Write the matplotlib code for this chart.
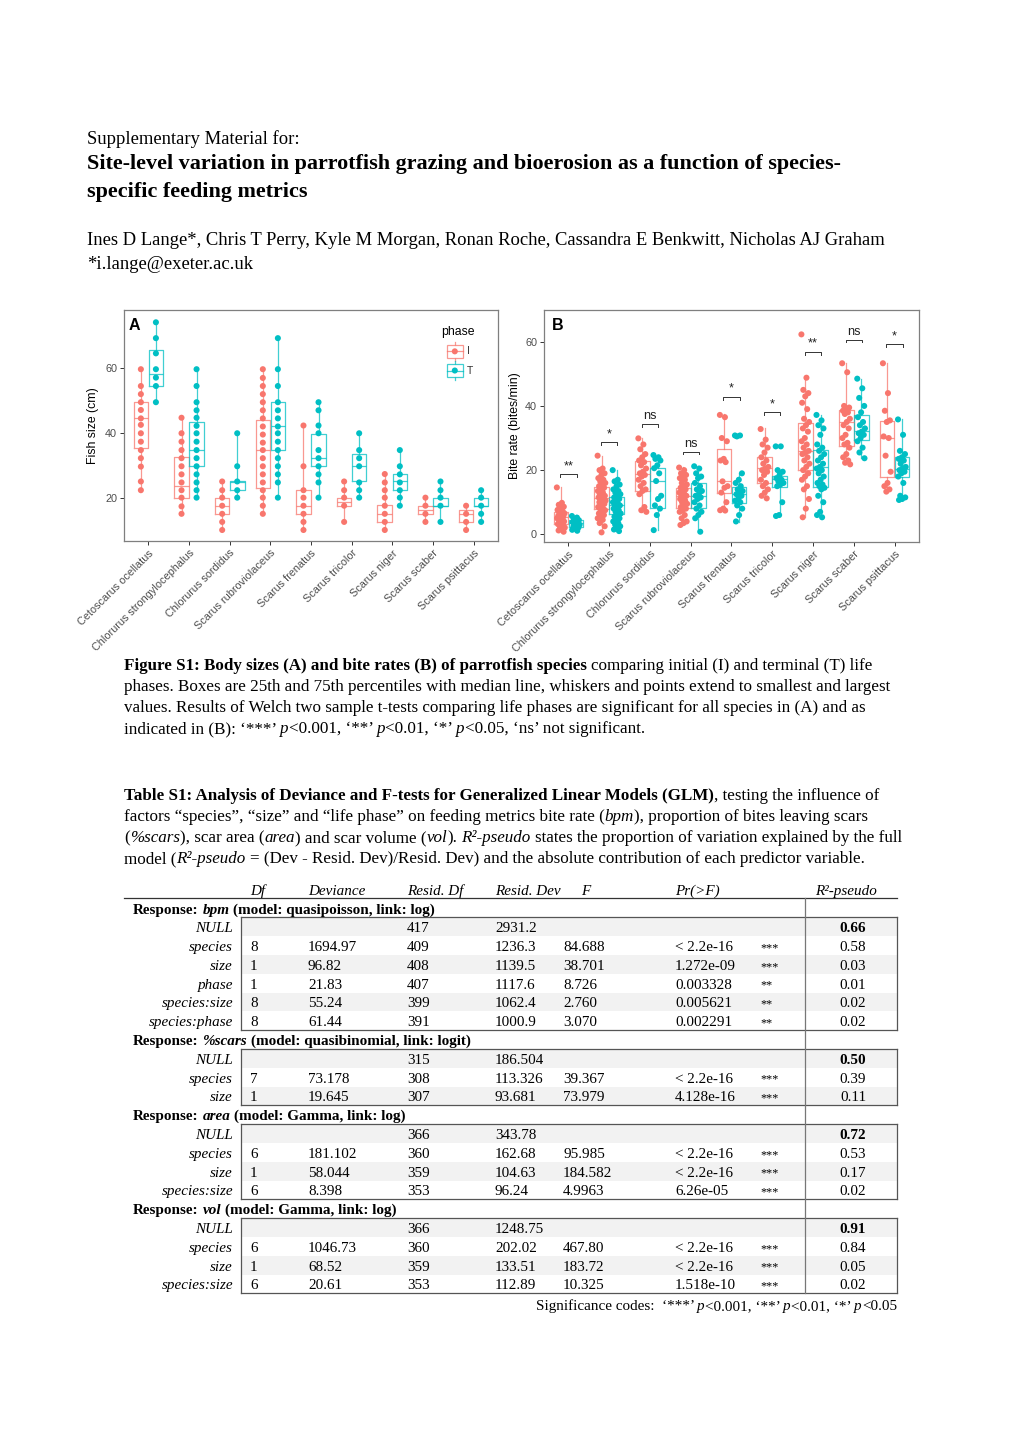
import matplotlib
matplotlib.use('Agg')
import matplotlib.pyplot as plt
from matplotlib.patches import Rectangle
from matplotlib.lines import Line2D
from matplotlib.font_manager import FontProperties

W, H = 1020, 1442
SERIF = 'Liberation Serif'
SANS = 'Liberation Sans'
RED = '#F8766D'
TEAL = '#00BFC4'

species = ['Cetoscarus ocellatus', 'Chlorurus strongylocephalus', 'Chlorurus sordidus',
           'Scarus rubroviolaceus', 'Scarus frenatus', 'Scarus tricolor',
           'Scarus niger', 'Scarus scaber', 'Scarus psittacus']

# panel A: fish size, box stats = (min, q1, median, q3, max)
size_box_I = [(22.3, 35.3, 44.5, 49.5, 59.7), (15.0, 20.0, 23.6, 32.7, 44.7), (10.0, 15.0, 17.4, 20.0, 25.0),
              (15.0, 23.1, 34.7, 44.0, 59.7), (10.0, 15.0, 17.4, 22.4, 42.3), (12.5, 17.4, 18.6, 19.8, 25.0),
              (10.0, 12.5, 15.0, 17.7, 27.3), (12.5, 15.0, 16.2, 17.4, 20.0), (10.0, 12.5, 15.0, 16.2, 17.4)]
size_box_T = [(49.5, 54.5, 58.2, 65.7, 74.2), (20.0, 29.8, 34.7, 43.3, 59.7), (20.0, 22.4, 24.7, 25.0, 39.9),
              (20.0, 34.7, 42.2, 49.5, 69.3), (20.0, 29.8, 32.2, 39.6, 49.5), (20.0, 25.0, 29.8, 33.4, 39.9),
              (17.4, 22.4, 25.0, 27.2, 34.7), (12.5, 17.4, 17.4, 20.0, 25.0), (12.5, 17.4, 17.4, 20.0, 22.4)]
size_pts_I = [
    [59.7, 54.5, 52.0, 49.5, 47.1, 44.5, 42.5, 39.9, 37.3, 34.7, 32.2, 29.6, 25.0, 22.3],
    [44.7, 39.9, 37.3, 34.7, 32.2, 29.7, 27.2, 24.7, 22.3, 20.0, 17.3, 15.0],
    [25.0, 22.3, 20.0, 17.5, 15.0, 12.5, 10.0],
    [59.7, 57.0, 54.5, 52.0, 49.5, 47.0, 44.5, 42.0, 39.5, 37.0, 34.7, 32.2, 29.7, 27.2, 24.7, 22.3, 20.0, 17.5, 15.0],
    [42.3, 29.7, 22.3, 20.0, 17.5, 15.0, 12.5, 10.0],
    [25.0, 22.3, 20.0, 17.5, 12.5],
    [27.3, 24.7, 22.3, 20.0, 17.5, 15.0, 12.5, 10.0],
    [20.0, 17.5, 15.0, 12.5],
    [17.5, 15.0, 12.5, 10.0],
]
size_pts_T = [
    [74.2, 69.3, 64.6, 59.7, 57.1, 54.5, 49.5],
    [59.7, 54.5, 49.5, 47.0, 44.7, 42.2, 39.9, 37.3, 34.7, 32.2, 29.7, 27.2, 24.7, 22.3, 20.0],
    [39.9, 29.7, 25.0, 22.3, 20.0],
    [69.3, 59.7, 54.5, 49.5, 47.0, 44.5, 42.0, 39.9, 37.3, 34.7, 32.2, 29.7, 27.2, 24.7, 20.0],
    [49.5, 47.0, 42.3, 39.9, 34.7, 32.2, 29.7, 27.2, 24.7, 20.0],
    [39.9, 34.7, 32.2, 29.7, 24.7, 22.3, 20.0],
    [34.7, 29.7, 27.2, 24.7, 22.3, 20.0, 17.5],
    [25.0, 22.3, 20.0, 17.5, 12.5],
    [22.3, 20.0, 17.5, 15.0, 12.5],
]

# panel B: bite rate
bite_box_I = [(0.8, 3.1, 5.5, 7.0, 14.6), (0.6, 8.0, 11.4, 14.6, 24.5), (6.9, 13.6, 18.9, 22.9, 30.0),
              (2.9, 8.3, 11.9, 14.5, 21.0), (7.4, 12.8, 16.5, 26.5, 37.5), (11.2, 15.9, 20.8, 24.0, 33.0),
              (5.3, 20.0, 26.1, 34.6, 49.0), (21.8, 27.5, 34.9, 38.7, 53.3), (13.3, 17.8, 30.1, 35.4, 53.3)]
bite_box_T = [(1.1, 2.2, 3.4, 4.5, 5.9), (1.0, 6.2, 9.1, 11.7, 20.0), (1.3, 8.3, 16.5, 20.6, 24.8),
              (0.8, 8.1, 11.9, 16.1, 21.3), (3.9, 9.7, 12.5, 14.8, 19.2), (5.7, 14.8, 17.2, 18.3, 20.0),
              (5.3, 14.8, 20.9, 26.2, 37.2), (23.7, 29.4, 32.3, 37.2, 48.5), (10.7, 17.8, 20.2, 24.0, 35.8)]
bite_pts_I = [
    [14.6, 9.8, 9.2, 8.6, 8.1, 7.6, 7.2, 6.8, 6.5, 6.1, 5.8, 5.5, 5.3, 5.0, 4.6, 4.3, 4.0, 3.6, 3.2, 2.9, 2.5, 2.1, 1.7, 1.2, 0.8],
    [24.5, 20.5, 20.0, 19.0, 18.5, 17.5, 17.0, 16.5, 16.0, 15.5, 15.0, 14.5, 14.0, 13.5, 13.0, 12.5, 12.0, 12.0, 11.5, 11.5,
     11.0, 10.5, 10.0, 10.0, 9.5, 9.0, 8.5, 8.0, 8.0, 7.5, 7.0, 6.5, 6.0, 5.5, 5.0, 4.5, 3.5, 2.5, 0.6],
    [29.9, 28.0, 26.5, 25.0, 24.0, 23.0, 22.5, 21.5, 20.5, 19.5, 19.0, 18.5, 18.0, 17.0, 16.0, 15.0, 14.0, 13.5, 12.5, 8.5, 7.5, 7.0],
    [20.8, 20.0, 19.0, 18.5, 18.0, 17.5, 17.0, 16.0, 15.5, 15.0, 14.5, 14.0, 13.5, 13.0, 12.5, 12.0, 12.0, 11.5, 11.0, 10.5,
     10.0, 9.5, 9.0, 8.5, 8.0, 7.5, 7.0, 6.0, 5.0, 4.0, 3.5, 2.9],
    [37.2, 36.5, 30.0, 29.0, 23.5, 23.0, 22.5, 16.5, 15.0, 14.5, 13.0, 10.0, 8.0, 7.5, 7.4],
    [32.8, 29.5, 28.0, 27.0, 25.5, 24.0, 23.0, 22.0, 21.0, 20.5, 20.0, 19.5, 18.5, 17.0, 16.0, 15.0, 14.0, 13.0, 12.0, 11.2],
    [62.3, 48.8, 45.0, 44.0, 43.0, 41.0, 39.0, 36.0, 35.0, 34.0, 33.0, 32.0, 30.0, 29.0, 28.0, 27.0, 26.0, 25.5, 25.0, 24.0,
     23.0, 22.0, 21.0, 20.0, 19.0, 18.0, 17.0, 15.0, 14.0, 11.0, 8.0, 5.3],
    [53.3, 50.5, 40.0, 39.5, 39.0, 38.5, 38.0, 37.5, 36.0, 35.0, 34.0, 33.0, 31.0, 30.0, 28.5, 28.0, 27.0, 25.0, 24.0, 23.0, 22.3, 21.8],
    [53.3, 44.0, 38.5, 35.5, 35.0, 30.5, 30.0, 24.5, 19.5, 16.0, 15.0, 14.0, 13.3],
]
bite_pts_T = [
    [5.7, 5.2, 4.8, 4.4, 4.1, 3.8, 3.5, 3.3, 3.0, 2.7, 2.4, 2.1, 1.8, 1.4, 1.1],
    [20.0, 17.0, 16.5, 15.5, 15.0, 14.0, 13.5, 13.0, 12.5, 12.0, 11.5, 11.0, 10.5, 10.0, 9.5, 9.0, 9.0, 8.5, 8.0, 7.5,
     7.0, 6.5, 6.0, 5.5, 5.0, 4.5, 4.0, 3.5, 3.0, 2.5, 2.0, 1.5, 1.0],
    [24.7, 24.0, 23.5, 23.0, 21.5, 20.6, 19.0, 16.6, 12.0, 11.0, 9.0, 8.0, 6.0, 1.3],
    [21.2, 20.5, 19.0, 18.0, 17.5, 16.0, 15.0, 14.0, 13.5, 12.5, 12.0, 11.5, 11.0, 10.0, 9.0, 8.0, 7.0, 6.0, 5.0, 0.8],
    [30.8, 30.8, 30.5, 19.0, 17.0, 16.0, 15.0, 14.0, 13.5, 13.0, 12.5, 12.0, 11.0, 10.5, 10.0, 9.0, 8.0, 6.0, 4.0],
    [27.4, 27.4, 20.0, 19.5, 18.5, 17.5, 17.0, 16.5, 16.0, 15.5, 15.0, 10.0, 6.0, 5.7],
    [37.2, 35.5, 34.0, 33.0, 31.0, 28.0, 27.0, 26.0, 25.0, 24.0, 23.0, 22.0, 21.0, 20.5, 20.0, 19.0, 18.0, 17.0, 16.0, 15.5,
     15.0, 14.5, 14.0, 12.0, 10.0, 7.0, 6.0, 5.3],
    [48.5, 45.5, 42.5, 40.0, 38.0, 36.5, 35.0, 34.0, 33.0, 32.0, 31.5, 31.0, 30.0, 29.0, 27.0, 25.5, 23.7],
    [35.8, 31.0, 26.0, 25.0, 24.0, 23.5, 23.0, 22.0, 21.0, 20.5, 20.0, 19.5, 19.0, 18.0, 16.0, 12.0, 11.5, 11.0, 10.7],
]
sig_labels = ['**', '*', 'ns', 'ns', '*', '*', '**', 'ns', '*']
sig_heights = [18.8, 28.7, 34.4, 25.8, 42.9, 38.0, 56.9, 60.7, 59.3]

# table S1
bpm_rows = [
    ('NULL', '', '', '417', '2931.2', '', '', '', '0.66'),
    ('species', '8', '1694.97', '409', '1236.3', '84.688', '< 2.2e-16', '***', '0.58'),
    ('size', '1', '96.82', '408', '1139.5', '38.701', '1.272e-09', '***', '0.03'),
    ('phase', '1', '21.83', '407', '1117.6', '8.726', '0.003328', '**', '0.01'),
    ('species:size', '8', '55.24', '399', '1062.4', '2.760', '0.005621', '**', '0.02'),
    ('species:phase', '8', '61.44', '391', '1000.9', '3.070', '0.002291', '**', '0.02'),
]
scars_rows = [
    ('NULL', '', '', '315', '186.504', '', '', '', '0.50'),
    ('species', '7', '73.178', '308', '113.326', '39.367', '< 2.2e-16', '***', '0.39'),
    ('size', '1', '19.645', '307', '93.681', '73.979', '4.128e-16', '***', '0.11'),
]
area_rows = [
    ('NULL', '', '', '366', '343.78', '', '', '', '0.72'),
    ('species', '6', '181.102', '360', '162.68', '95.985', '< 2.2e-16', '***', '0.53'),
    ('size', '1', '58.044', '359', '104.63', '184.582', '< 2.2e-16', '***', '0.17'),
    ('species:size', '6', '8.398', '353', '96.24', '4.9963', '6.26e-05', '***', '0.02'),
]
vol_rows = [
    ('NULL', '', '', '366', '1248.75', '', '', '', '0.91'),
    ('species', '6', '1046.73', '360', '202.02', '467.80', '< 2.2e-16', '***', '0.84'),
    ('size', '1', '68.52', '359', '133.51', '183.72', '< 2.2e-16', '***', '0.05'),
    ('species:size', '6', '20.61', '353', '112.89', '10.325', '1.518e-10', '***', '0.02'),
]
responses = [('bpm', 'quasipoisson, link: log', bpm_rows),
             ('%scars', 'quasibinomial, link: logit', scars_rows),
             ('area', 'Gamma, link: log', area_rows),
             ('vol', 'Gamma, link: log', vol_rows)]
table_header = ['Df', 'Deviance', 'Resid. Df', 'Resid. Dev', 'F', 'Pr(>F)', 'R²-pseudo']

fig = plt.figure(figsize=(W / 100, H / 100), dpi=100)
R = fig.canvas.get_renderer()
N, B, I = 'normal', 'bold', 'italic'


def tw(s, size, weight=N, style=N, family=SERIF):
    fp = FontProperties(family=family, size=size, weight=weight, style=style)
    a = R.get_text_width_height_descent('|' + s + '|', fp, ismath=False)[0]
    b = R.get_text_width_height_descent('||', fp, ismath=False)[0]
    return a - b


def rich(x, y, parts, size, ha='left'):
    # parts: (text, weight, style); x, y in page pixels, y = baseline
    widths = [tw(t, size, w, s) for t, w, s in parts]
    if ha == 'right':
        x -= sum(widths)
    elif ha == 'center':
        x -= sum(widths) / 2
    for (t, w, s), wd in zip(parts, widths):
        lead = tw(t[:len(t) - len(t.lstrip())], size, w, s) if t[:1] == ' ' else 0
        if t.strip():
            fig.text((x + lead) / W, 1 - y / H, t.strip(), fontsize=size, fontweight=w, fontstyle=s,
                     family=SERIF, ha='left', va='baseline')
        x += wd


def hline(x0, x1, y, color='#555555', lw=0.9):
    fig.add_artist(Line2D([x0 / W, x1 / W], [1 - y / H, 1 - y / H], transform=fig.transFigure, color=color, lw=lw))


def vline(x, y0, y1, color='#555555', lw=0.9):
    fig.add_artist(Line2D([x / W, x / W], [1 - y0 / H, 1 - y1 / H], transform=fig.transFigure, color=color, lw=lw))


# ---- heading ----
authors = 'Ines D Lange*, Chris T Perry, Kyle M Morgan, Ronan Roche, Cassandra E Benkwitt, Nicholas AJ Graham'
title1 = 'Site-level variation in parrotfish grazing and bioerosion as a function of species-'
body = 13.0 * 795 / tw(authors, 13.0)
tsize = 15.0 * 753 / tw(title1, 15.0, B)
rich(87, 144, [('Supplementary Material for:', N, N)], body)
rich(87, 169, [(title1, B, N)], tsize)
rich(87, 197, [('specific feeding metrics', B, N)], tsize)
rich(87, 245, [(authors, N, N)], body)
rich(87, 269, [('*i.lange@exeter.ac.uk', N, N)], body)

# ---- figure caption ----
cap2 = 'phases. Boxes are 25th and 75th percentiles with median line, whiskers and points extend to smallest and largest'
cs = 13.0 * 765 / tw(cap2, 13.0)
rich(124, 670, [('Figure S1: Body sizes (A) and bite rates (B) of parrotfish species', B, N),
                (' comparing initial (I) and terminal (T) life', N, N)], cs)
rich(124, 691, [(cap2, N, N)], cs)
rich(124, 712, [('values. Results of Welch two sample t-tests comparing life phases are significant for all species in (A) and as', N, N)], cs)
rich(124, 733, [('indicated in (B): ‘***’ ', N, N), ('p', N, I), ('<0.001, ‘**’ ', N, N), ('p', N, I),
                ('<0.01, ‘*’ ', N, N), ('p', N, I), ('<0.05, ‘ns’ not significant.', N, N)], cs)

rich(124, 800, [('Table S1: Analysis of Deviance and F-tests for Generalized Linear Models (GLM)', B, N),
                (', testing the influence of', N, N)], cs)
rich(124, 821, [('factors “species”, “size” and “life phase” on feeding metrics bite rate (', N, N), ('bpm', N, I),
                ('), proportion of bites leaving scars', N, N)], cs)
rich(124, 842, [('(', N, N), ('%scars', N, I), ('), scar area (', N, N), ('area', N, I), (') and scar volume (', N, N),
                ('vol', N, I), ('). ', N, N), ('R²-pseudo', N, I),
                (' states the proportion of variation explained by the full', N, N)], cs)
rich(124, 863, [('model (', N, N), ('R²-pseudo', N, I),
                (' = (Dev - Resid. Dev)/Resid. Dev) and the absolute contribution of each predictor variable.', N, N)], cs)

# ---- table ----
ts = cs * 0.885
head_x = [250, 308, 407, 495, 581, 675, 815]
col_x = [250, 308, 407, 495, 563, 675, 760]
for h, x in zip(table_header, head_x):
    rich(x, 895, [(h, N, I)], ts)
hline(124, 897, 898, color='#333333')
rh = 18.8
y = 908
for name, model, rows in responses:
    rich(133, y + 5.5, [('Response: ', B, N), (name, B, I), (' (model: ' + model + ')', B, N)], ts)
    top = y + rh / 2
    y += rh
    for k, row in enumerate(rows):
        if k % 2 == 0:
            fig.add_artist(Rectangle((241 / W, 1 - (y + rh / 2) / H), 656 / W, rh / H, transform=fig.transFigure,
                                     facecolor='#F2F2F2', edgecolor='none', zorder=0))
        rich(233, y + 5.5, [(row[0], N, I)], ts, ha='right')
        for val, x in zip(row[1:8], col_x):
            if val:
                if val.startswith('*'):
                    rich(x, y + 5.5, [(val, N, N)], ts * 0.8)
                else:
                    rich(x, y + 5.5, [(val, N, N)], ts)
        rich(853, y + 5.5, [(row[8], B if row[0] == 'NULL' else N, N)], ts, ha='center')
        y += rh
    bottom = y - rh / 2
    hline(241, 897, top)
    hline(241, 897, bottom)
    vline(241, top, bottom)
    vline(897, top, bottom)
vline(805, 898, y - rh / 2, color='#777777')
rich(897, 1310, [('Significance codes:  ‘***’ ', N, N), ('p', N, I), ('<0.001, ‘**’ ', N, N), ('p', N, I),
                 ('<0.01, ‘*’ ', N, N), ('p', N, I), ('<0.05', N, N)], ts, ha='right')


# ---- panels ----
def panel(rect, box_I, box_T, pts_I, pts_T, ylim, yticks, ylabel, letter, jitter, label_x):
    ax = fig.add_axes([rect[0] / W, 1 - rect[3] / H, (rect[2] - rect[0]) / W, (rect[3] - rect[1]) / H])
    for boxes, pts, col, off in [(box_I, pts_I, RED, -0.185), (box_T, pts_T, TEAL, 0.185)]:
        stats = [dict(whislo=b[0], q1=b[1], med=b[2], q3=b[3], whishi=b[4], fliers=[]) for b in boxes]
        pos = [i + 1 + off for i in range(len(boxes))]
        props = dict(color=col, lw=0.9, alpha=0.75)
        ax.bxp(stats, positions=pos, widths=0.36, showcaps=False, showfliers=False,
               boxprops=props, whiskerprops=props, medianprops=props, manage_ticks=False)
        for p, vals in zip(pos, pts):
            xs = [p + (((k * 0.618034) % 1) - 0.5) * jitter for k in range(len(vals))]
            ax.scatter(xs, vals, s=19, color=col, edgecolors='none', zorder=3)
    ax.set_xlim(0.4, 9.6)
    ax.set_ylim(*ylim)
    ax.set_yticks(yticks)
    ax.set_xticks(range(1, 10))
    ax.set_xticklabels(species, rotation=45, ha='right', rotation_mode='anchor', fontsize=7.5, family=SANS)
    for t in ax.get_yticklabels():
        t.set_family(SANS)
    ax.tick_params(colors='#333333', labelcolor='#4D4D4D', length=3, width=0.7, labelsize=7.8, pad=2)
    for s in ax.spines.values():
        s.set_color('#7F7F7F')
        s.set_linewidth(0.9)
    ax.set_ylabel(ylabel, fontsize=8.8, family=SANS)
    ax.yaxis.set_label_coords(label_x, 0.5)
    ax.text(letter[1], 0.965, letter[0], transform=ax.transAxes, fontsize=11.5, fontweight='bold',
            family=SANS, ha='left', va='top')
    return ax


axA = panel((124, 310, 498, 541), size_box_I, size_box_T, size_pts_I, size_pts_T, (6.6, 78), [20, 40, 60],
            'Fish size (cm)', ('A', 0.011), 0.0, -0.068)
axB = panel((544, 310, 919, 542), bite_box_I, bite_box_T, bite_pts_I, bite_pts_T, (-2.4, 69.9), [0, 20, 40, 60],
            'Bite rate (bites/min)', ('B', 0.02), 0.2, -0.061)

for i, (lab, hgt) in enumerate(zip(sig_labels, sig_heights)):
    x0, x1 = i + 1 - 0.2, i + 1 + 0.2
    axB.plot([x0, x0, x1, x1], [hgt - 0.9, hgt, hgt, hgt - 0.9], color='#333333', lw=0.7)
    axB.text(i + 1, hgt + 0.6, lab, ha='center', va='bottom', fontsize=9.2, family=SANS, color='#222222')

# legend for A
axA.text(0.849, 0.903, 'phase', transform=axA.transAxes, fontsize=8.8, family=SANS, ha='left', va='center')
for cy, col, lab in [(0.821, RED, 'I'), (0.738, TEAL, 'T')]:
    axA.add_patch(Rectangle((0.863, cy - 0.027), 0.043, 0.054, transform=axA.transAxes, facecolor='white',
                            edgecolor=col, lw=0.9, alpha=0.75, zorder=4))
    axA.plot([0.8845, 0.8845], [cy - 0.04, cy - 0.027], transform=axA.transAxes, color=col, lw=0.9, alpha=0.75)
    axA.plot([0.8845, 0.8845], [cy + 0.027, cy + 0.04], transform=axA.transAxes, color=col, lw=0.9, alpha=0.75)
    axA.plot([0.863, 0.906], [cy, cy], transform=axA.transAxes, color=col, lw=0.9, alpha=0.75, zorder=5)
    axA.scatter([0.8845], [cy], transform=axA.transAxes, s=19, color=col, edgecolors='none', zorder=6)
    axA.text(0.916, cy, lab, transform=axA.transAxes, fontsize=7.5, family=SANS, color='#333333',
             ha='left', va='center')

fig.savefig('out.png', dpi=100)
